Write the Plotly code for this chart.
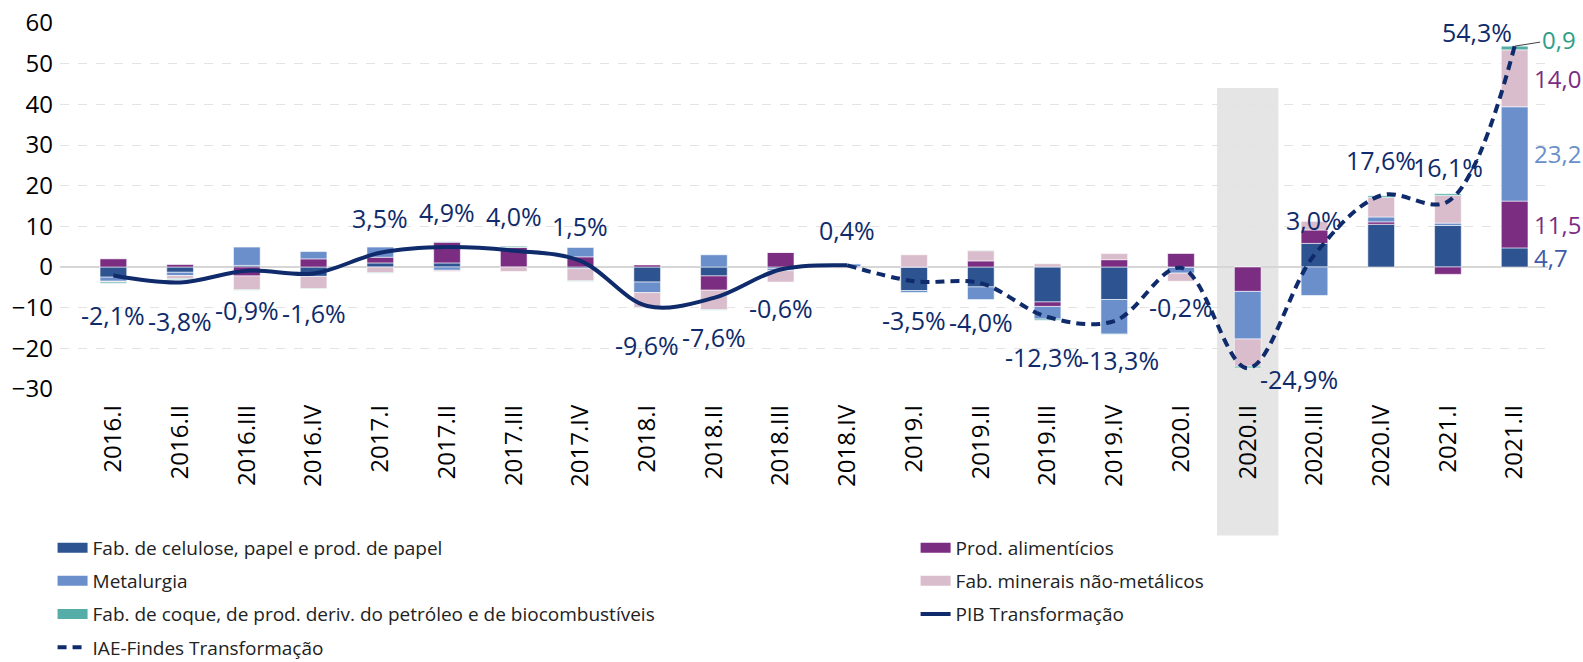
import plotly.graph_objects as go

categories = ['2016.I', '2016.II', '2016.III', '2016.IV', '2017.I', '2017.II', '2017.III', '2017.IV',
              '2018.I', '2018.II', '2018.III', '2018.IV', '2019.I', '2019.II', '2019.III', '2019.IV',
              '2020.I', '2020.II', '2020.III', '2020.IV', '2021.I', '2021.II']

celulose = [-2.5, -1.3, 0.4, -2.3, 1.0, 1.0, 0.0, -0.4, -3.7, -2.2, -0.4, 0.0,
            -5.8, -4.9, -8.6, -8.0, -0.1, 0.0, 5.8, 10.5, 10.2, 4.7]
alimenticios = [2.0, 0.6, -2.2, 2.0, 1.4, 5.1, 4.8, 2.5, 0.5, -3.5, 3.6, 0.0,
                0.0, 1.5, -1.1, 1.8, 3.4, -6.0, 3.3, 0.6, -1.8, 11.5]
metalurgia = [-1.0, -0.8, 4.5, 1.8, 2.5, -0.8, 0.0, 2.3, -2.6, 3.0, -0.5, 0.8,
              -0.5, -3.1, -3.1, -8.5, -1.4, -11.7, -7.0, 1.2, 0.6, 23.2]
minerais = [-0.2, -0.8, -3.4, -3.0, -1.4, -0.3, -1.1, -3.0, -3.7, -4.8, -2.8, -0.3,
            3.0, 2.5, 0.8, 1.5, -2.0, -6.7, 2.2, 4.8, 6.8, 14.0]
coque = [-0.3, -0.2, -0.1, -0.1, -0.1, 0.1, 0.3, -0.1, -0.1, -0.1, 0.0, 0.0,
         -0.1, 0.1, -0.3, -0.1, 0.0, -0.4, 0.0, 0.4, 0.4, 0.9]

pib_categories = categories[:12]
pib = [-2.1, -3.8, -0.9, -1.6, 3.5, 4.9, 4.0, 1.5, -9.6, -7.6, -0.6, 0.4]
iae_categories = categories[11:]
iae = [0.4, -3.5, -4.0, -12.3, -13.3, -0.2, -24.9, 3.0, 17.6, 16.1, 54.3]

highlight_category = '2020.II'

# styles
C_CEL = '#2E5391'
C_ALI = '#7B2D82'
C_MET = '#6A8FCB'
C_MIN = '#D9BDCC'
C_COQ = '#55ADA8'
C_LINE = '#0F2B6B'
FONT = 'Open Sans'

label_shift_special = {'2020.II': (51, -11), '2021.II': (-38, 14),
                       '2019.III': (-4, -40), '2019.IV': (6, -39)}

fig = go.Figure()

sectors = [
    ('Fab. de celulose, papel e prod. de papel', celulose, C_CEL),
    ('Prod. alimentícios', alimenticios, C_ALI),
    ('Metalurgia', metalurgia, C_MET),
    ('Fab. minerais não-metálicos', minerais, C_MIN),
    ('Fab. de coque, de prod. deriv. do petróleo e de biocombustíveis', coque, C_COQ),
]
for name, vals, col in sectors:
    fig.add_trace(go.Bar(x=categories, y=vals, name=name, marker_color=col,
                         marker_line=dict(color='rgba(255,255,255,0.55)', width=1),
                         showlegend=False))

fig.add_trace(go.Scatter(x=pib_categories, y=pib, mode='lines', name='PIB Transformação',
                         line=dict(color=C_LINE, width=4, shape='spline', smoothing=1.0),
                         legend='legend2', legendrank=3, legendgroup='g_pib'))
fig.add_trace(go.Scatter(x=iae_categories, y=iae, mode='lines', name='IAE-Findes Transformação',
                         line=dict(color=C_LINE, width=4, dash='9px,6px', shape='spline', smoothing=1.0),
                         legend='legend', legendrank=4, legendgroup='g_iae'))

# legend entries for bars (wide swatches)
legend_map = {
    'Fab. de celulose, papel e prod. de papel': ('legend', 1),
    'Metalurgia': ('legend', 2),
    'Fab. de coque, de prod. deriv. do petróleo e de biocombustíveis': ('legend', 3),
    'Prod. alimentícios': ('legend2', 1),
    'Fab. minerais não-metálicos': ('legend2', 2),
}
for i, (name, vals, col) in enumerate(sectors):
    lg, rank = legend_map[name]
    fig.add_trace(go.Scatter(x=[None], y=[None], mode='lines', name=name,
                             line=dict(color=col, width=10), legend=lg, legendrank=rank,
                             legendgroup='g%d' % i, hoverinfo='skip'))

def fmt(v, pct=True):
    s = ('%.1f' % v).replace('.', ',')
    return s + '%' if pct else s

annotations = []
labelled = list(zip(pib_categories, pib)) + list(zip(iae_categories[1:], iae[1:]))
for cat, v in labelled:
    if cat in label_shift_special:
        xs, ys = label_shift_special[cat]
    else:
        xs, ys = 0, (35 if v >= 0 else -39)
    annotations.append(dict(x=cat, y=v, text=fmt(v), showarrow=False, xshift=xs, yshift=ys,
                            font=dict(family=FONT, size=25, color=C_LINE)))

# segment labels on last bar
last = categories[-1]
seg_colors = ['#3F5AA8', C_ALI, C_MET, C_ALI, '#2E9E86']
base = 0.0
for k, (name, vals, col) in enumerate(sectors):
    v = vals[-1]
    center = base + v / 2
    base += v
    if k < len(sectors) - 1:
        annotations.append(dict(x=last, y=center, text=fmt(v, False), showarrow=False,
                                xanchor='left', xshift=17,
                                font=dict(family=FONT, size=24, color=seg_colors[k])))
    else:
        annotations.append(dict(x=last, y=base, text=fmt(v, False), showarrow=True,
                                ax=44, ay=-7, arrowhead=0, arrowwidth=1, arrowcolor='#404040',
                                standoff=0,
                                font=dict(family=FONT, size=24, color=seg_colors[k])))

hi = categories.index(highlight_category)
ymin, ymax = -30, 60
fig.add_shape(type='rect', xref='x', yref='paper', x0=hi - 0.46, x1=hi + 0.46,
              y0=-0.40, y1=(44 - ymin) / (ymax - ymin),
              fillcolor='#E5E5E5', line=dict(width=0), layer='below')

fig.update_layout(
    width=1583, height=662,
    barmode='relative', bargap=0.6,
    margin=dict(l=60, r=35, t=23, b=273, autoexpand=False),
    plot_bgcolor='white', paper_bgcolor='white',
    font=dict(family=FONT, size=25, color='#111111'),
    annotations=annotations,
    legend=dict(x=-0.005, y=-0.382, xanchor='left', yanchor='top', orientation='v',
                traceorder='grouped', tracegroupgap=5.5,
                font=dict(family=FONT, size=19, color='#222222'), bgcolor='rgba(0,0,0,0)'),
    legend2=dict(x=0.575, y=-0.382, xanchor='left', yanchor='top', orientation='v',
                 traceorder='grouped', tracegroupgap=5.5,
                 font=dict(family=FONT, size=19, color='#222222'), bgcolor='rgba(0,0,0,0)'),
)
fig.update_xaxes(type='category', categoryorder='array', categoryarray=categories,
                 range=[-0.8, len(categories) - 0.5], tickangle=-90, showgrid=False,
                 showline=False, ticks='', ticklabelstandoff=10, automargin=False,
                 tickfont=dict(family=FONT, size=24, color='#000000'))
fig.update_yaxes(range=[ymin, ymax], dtick=10, showgrid=True, gridcolor='#E3E3E3',
                 griddash='dash', gridwidth=1, zeroline=True, zerolinecolor='#D6D6D6',
                 zerolinewidth=2, showline=False, ticks='', ticklabelstandoff=6, automargin=False,
                 tickfont=dict(family=FONT, size=24, color='#000000'))

fig.write_html('out.html', config={'displayModeBar': False},
               post_script="document.body.style.margin='0px';")
